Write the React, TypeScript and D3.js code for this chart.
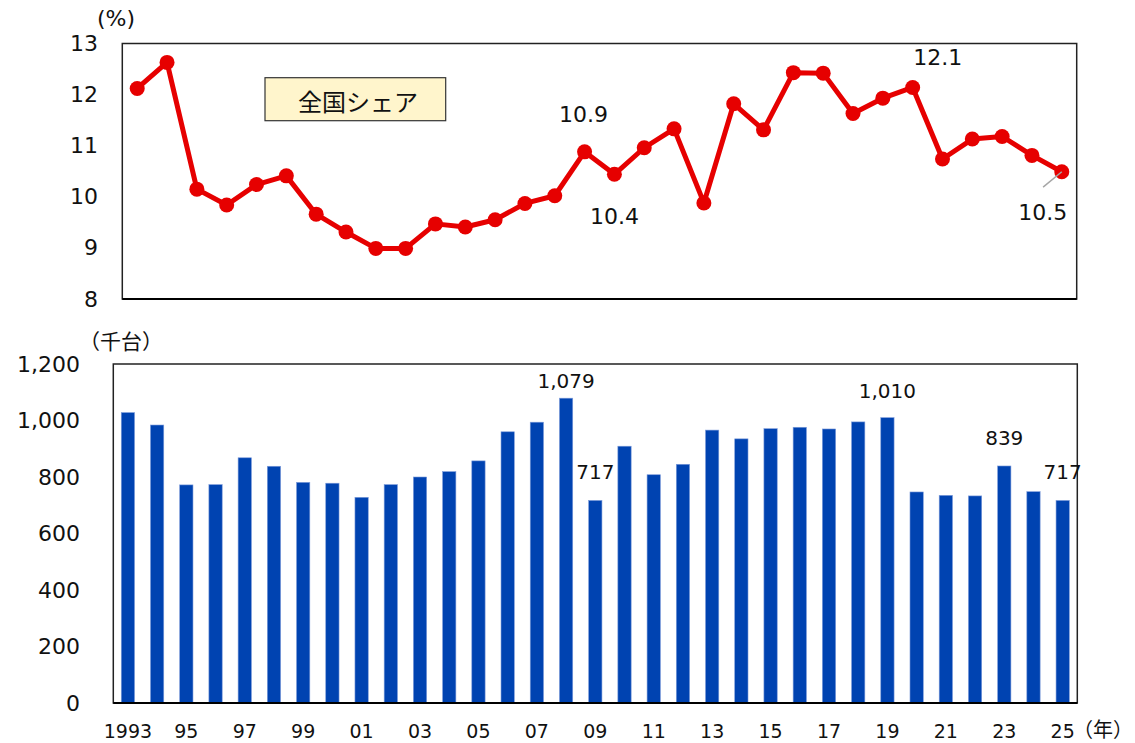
import React from "react";
import * as d3 from "d3";

// ---- Data ----
const shareYears: number[] = d3.range(1993, 2025); // 32 points
const shareValues: number[] = [
  12.12, 12.63, 10.15, 9.84, 10.24, 10.41, 9.66, 9.31, 8.99, 8.99,
  9.47, 9.41, 9.55, 9.87, 10.02, 10.88, 10.44, 10.96, 11.33, 9.88,
  11.82, 11.31, 12.43, 12.42, 11.63, 11.93, 12.14, 10.74, 11.13, 11.18,
  10.81, 10.49,
];
const shareTicks: number[] = [8, 9, 10, 11, 12, 13];

const barYears: number[] = d3.range(1993, 2026); // 33 bars
const barValues: number[] = [
  1028, 984, 772, 773, 868, 838, 781, 778, 728, 773,
  800, 819, 857, 960, 994, 1079, 717, 909, 808, 845,
  966, 935, 971, 976, 970, 995, 1010, 747, 735, 733,
  839, 748, 717,
];
const barTicks: number[] = [0, 200, 400, 600, 800, 1000, 1200];
const xTickLabels: string[] = [
  "1993", "95", "97", "99", "01", "03", "05", "07", "09", "11",
  "13", "15", "17", "19", "21", "23", "25",
];
const xTickYears: number[] = d3.range(1993, 2026, 2);

const shareLabelYears: number[] = [2008, 2009, 2019, 2024];
const shareLabelTexts: string[] = ["10.9", "10.4", "12.1", "10.5"];
const barLabelYears: number[] = [2008, 2009, 2019, 2023, 2025];

const FONT = "'DejaVu Sans', Verdana, sans-serif";
const JFONT = "'Noto Sans CJK JP', 'DejaVu Sans', sans-serif";

export default function App() {
  // Top chart geometry
  const t = { left: 122.3, right: 1076.7, top: 43.5, bottom: 299 };
  const xTop = d3
    .scalePoint<number>()
    .domain(shareYears)
    .range([t.left, t.right])
    .padding(0.5);
  const yTop = d3.scaleLinear().domain([8, 13]).range([t.bottom, t.top]);
  const line = d3
    .line<number>()
    .x((_, i) => xTop(shareYears[i]) as number)
    .y((d) => yTop(d));

  // Bottom chart geometry
  const b = { left: 113.3, right: 1077.3, top: 364, bottom: 703 };
  const xBot = d3
    .scalePoint<number>()
    .domain(barYears)
    .range([b.left, b.right])
    .padding(0.5);
  const yBot = d3.scaleLinear().domain([0, 1200]).range([b.bottom, b.top]);
  const barW = xBot.step() * 0.455;

  const shareLabelOffsets: [number, number][] = [
    [-1, -37],
    [0, 42],
    [25, -30],
    [-19, 41],
  ];
  const barLabelOffsets: number[] = [-17, -28, -27, -28, -28];

  const fmt = d3.format(",");

  return (
    <svg width={1135} height={743} style={{ display: "block", position: "absolute", left: 0, top: 0 }}>
      <rect x={0} y={0} width={1135} height={743} fill="#ffffff" />

      {/* ---------- Top chart ---------- */}
      <text x={116} y={18} fontFamily={FONT} fontSize={22} textAnchor="middle" dominantBaseline="central" fill="#111">
        (%)
      </text>
      {shareTicks.map((v) => (
        <text
          key={"ty" + v}
          x={98}
          y={yTop(v)}
          fontFamily={FONT}
          fontSize={22}
          textAnchor="end"
          dominantBaseline="central"
          fill="#111"
        >
          {v}
        </text>
      ))}
      <rect
        x={t.left}
        y={t.top}
        width={t.right - t.left}
        height={t.bottom - t.top}
        fill="none"
        stroke="#222"
        strokeWidth={1.5}
      />
      <line x1={t.left} x2={t.right} y1={t.bottom} y2={t.bottom} stroke="#000" strokeWidth={2} />

      {/* legend box */}
      <rect x={265} y={77.7} width={180.7} height={43} fill="#FFF5CC" stroke="#333" strokeWidth={1.2} />
      <text x={358} y={100} fontFamily={JFONT} fontSize={24} textAnchor="middle" dominantBaseline="central" fill="#111">
        全国シェア
      </text>

      <path d={line(shareValues) || ""} fill="none" stroke="#E60000" strokeWidth={5} strokeLinejoin="round" />
      {shareValues.map((v, i) => (
        <circle key={"pt" + i} cx={xTop(shareYears[i])} cy={yTop(v)} r={7.5} fill="#E60000" />
      ))}

      {/* leader line for last label */}
      {(() => {
        const i = shareYears.indexOf(2024);
        const px = xTop(2024) as number;
        const py = yTop(shareValues[i]);
        return <line x1={px} y1={py} x2={px - 18.7} y2={py + 15.3} stroke="#A6A6A6" strokeWidth={1.5} />;
      })()}
      {shareLabelYears.map((yr, k) => {
        const i = shareYears.indexOf(yr);
        const [dx, dy] = shareLabelOffsets[k];
        return (
          <text
            key={"sl" + yr}
            x={(xTop(yr) as number) + dx}
            y={yTop(shareValues[i]) + dy}
            fontFamily={FONT}
            fontSize={22}
            textAnchor="middle"
            dominantBaseline="central"
            fill="#111"
          >
            {shareLabelTexts[k]}
          </text>
        );
      })}

      {/* ---------- Bottom chart ---------- */}
      <text x={121} y={340} fontFamily={JFONT} fontSize={21} textAnchor="middle" dominantBaseline="central" fill="#111">
        （千台）
      </text>
      {barTicks.map((v) => (
        <text
          key={"by" + v}
          x={80}
          y={yBot(v)}
          fontFamily={FONT}
          fontSize={22}
          textAnchor="end"
          dominantBaseline="central"
          fill="#111"
        >
          {fmt(v)}
        </text>
      ))}
      {barValues.map((v, i) => (
        <rect
          key={"bar" + i}
          x={(xBot(barYears[i]) as number) - barW / 2}
          y={yBot(v)}
          width={barW}
          height={yBot(0) - yBot(v)}
          fill="#0043B1"
          stroke="#7C9BDA"
          strokeWidth={0.6}
        />
      ))}
      <rect
        x={b.left}
        y={b.top}
        width={b.right - b.left}
        height={b.bottom - b.top}
        fill="none"
        stroke="#222"
        strokeWidth={1.5}
      />
      <line x1={b.left} x2={b.right} y1={b.bottom} y2={b.bottom} stroke="#000" strokeWidth={2} />

      {barLabelYears.map((yr, k) => {
        const i = barYears.indexOf(yr);
        return (
          <text
            key={"bl" + yr}
            x={xBot(yr) as number}
            y={yBot(barValues[i]) + barLabelOffsets[k]}
            fontFamily={FONT}
            fontSize={20}
            textAnchor="middle"
            dominantBaseline="central"
            fill="#111"
          >
            {fmt(barValues[i])}
          </text>
        );
      })}

      {xTickYears.map((yr, k) => (
        <text
          key={"xt" + yr}
          x={xBot(yr) as number}
          y={738}
          fontFamily={FONT}
          fontSize={19}
          textAnchor="middle"
          fill="#111"
        >
          {xTickLabels[k]}
        </text>
      ))}
      <text x={1103} y={737} fontFamily={JFONT} fontSize={20} textAnchor="middle" fill="#111">
        （年）
      </text>
    </svg>
  );
}
